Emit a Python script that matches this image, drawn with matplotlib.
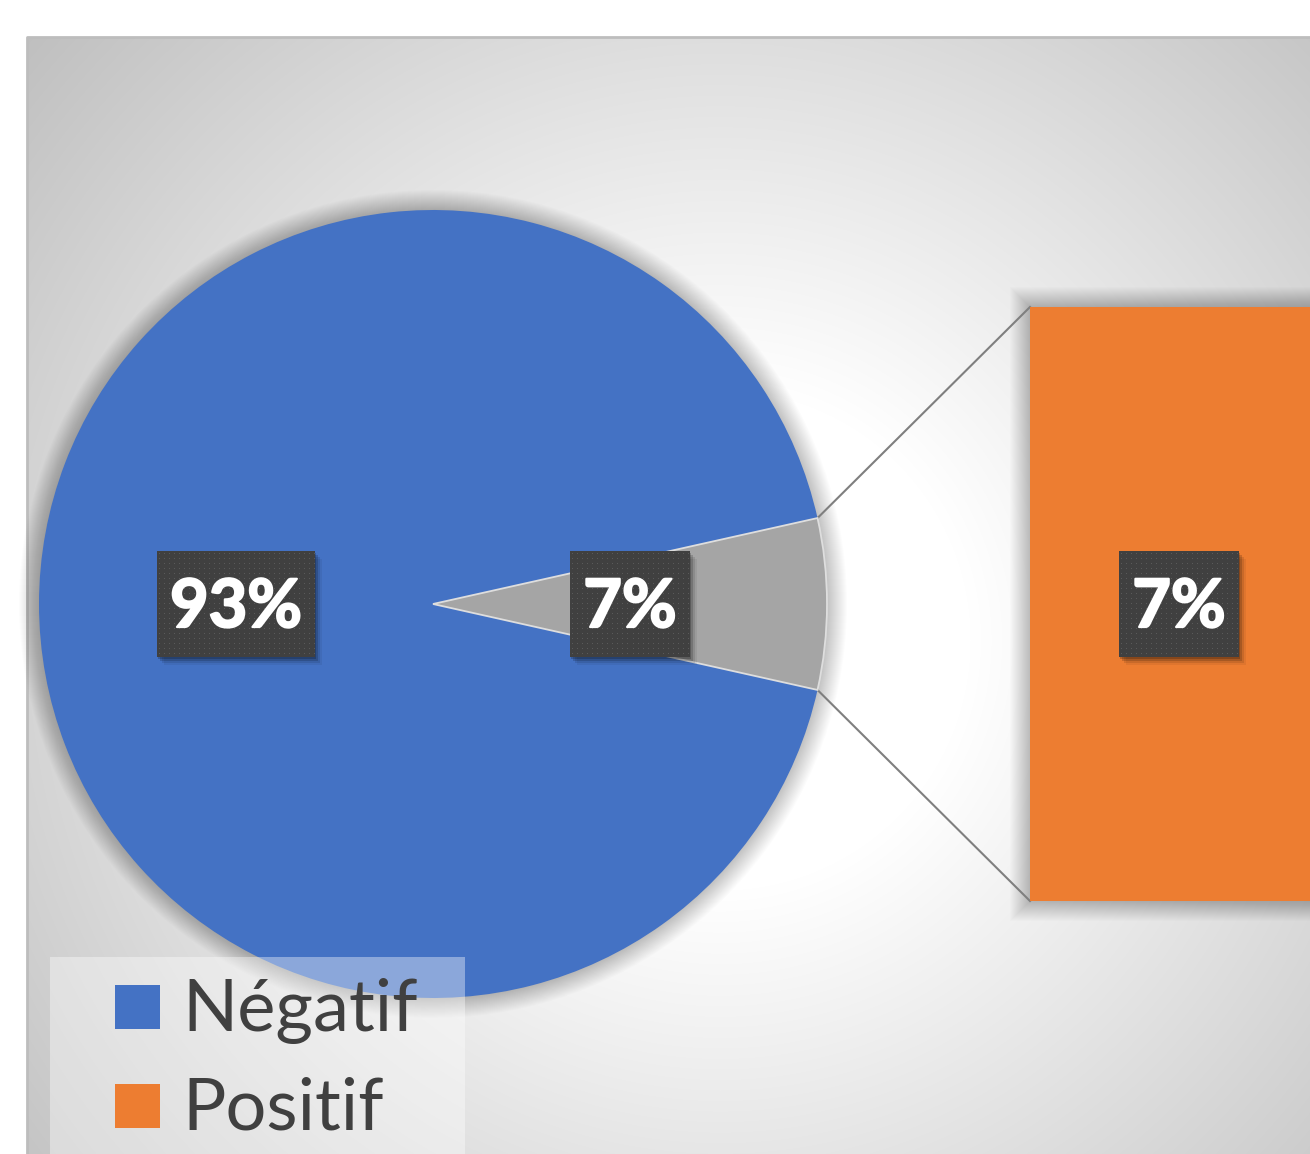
import numpy as np
import matplotlib.pyplot as plt
import matplotlib.patheffects as pe
from matplotlib.patches import Rectangle, Circle

plt.rcParams['font.family'] = ['Lato', 'DejaVu Sans']

# share of each result; the small slice is broken out into the bar on the right
categories = ['Négatif', 'Positif']
shares = [93, 7]
bar_values = [7]          # what the secondary bar is made of (Positif only)

blue = '#4472C4'
grey = '#A5A5A5'
orange = '#ED7D31'
text_dark = '#404040'

W, H = 1310, 1154
fig = plt.figure(figsize=(W / 100, H / 100), dpi=100)
ax = fig.add_axes([0, 0, 1, 1])

# chart area with a soft radial grey gradient
x0, y0 = 27, 37
yy, xx = np.mgrid[y0:H, x0:W]
dist = np.hypot(xx - 720, yy - 640)
g = np.clip(255 - 0.095 * np.clip(dist - 250, 0, None), 188, 255) / 255
ax.imshow(np.dstack([g, g, g]), extent=(x0, W, H, y0), zorder=0,
          interpolation='bilinear')
ax.plot([x0, x0, W], [H, y0, y0], color='#bdbdbd', lw=2, zorder=0.5)

# pie of the two shares
cx, cy, r = 433, 604, 394
for k in range(1, 21):
    ax.add_patch(Circle((cx, cy), r + k, color='k', alpha=0.012, lw=0, zorder=1))

half = shares[1] / 100 * 180
wedges, _ = ax.pie([shares[1], shares[0]], colors=[grey, blue], center=(cx, cy),
                   radius=r, startangle=-half, frame=True,
                   wedgeprops=dict(linewidth=0, zorder=2))
wedges[0].set_edgecolor('#dedede')
wedges[0].set_linewidth(1.3)
wedges[0].set_zorder(2.1)

# bar holding the broken-out slice
bar_left, bar_top, bar_w, bar_h = 1030, 307, 360, 594
for k in range(1, 21):
    ax.add_patch(Rectangle((bar_left - k, bar_top - k), bar_w + 2 * k, bar_h + 2 * k,
                           color='k', alpha=0.012, lw=0, zorder=1))
bottom = bar_top
for v in bar_values:
    hgt = bar_h * v / sum(bar_values)
    ax.bar(bar_left + bar_w / 2, hgt, width=bar_w, bottom=bottom, color=orange,
           zorder=2)
    bottom += hgt

# connector lines from the slice to the bar corners
t = np.deg2rad(half)
ax.plot([cx + r * np.cos(t), bar_left], [cy - r * np.sin(t), bar_top],
        color='#7f7f7f', lw=1.5, zorder=1.5)
ax.plot([cx + r * np.cos(t), bar_left], [cy + r * np.sin(t), bar_top + bar_h],
        color='#7f7f7f', lw=1.5, zorder=1.5)


def dotted_label(x, y, txt):
    t = ax.text(x, y + 4, txt, color='white', fontsize=48, fontweight='bold',
                ha='center', va='center', zorder=6,
                path_effects=[pe.withStroke(linewidth=1.6, foreground='white')])
    fig.canvas.draw()
    bb = t.get_window_extent(fig.canvas.get_renderer())
    w = bb.width + 26
    h = 106
    left, top = x - w / 2, y - h / 2
    # drop shadow
    for k, a in [(8, 0.06), (6, 0.1), (4, 0.16), (2, 0.2)]:
        ax.add_patch(Rectangle((left + k - 1, top + k), w, h, color='k', alpha=a,
                               lw=0, zorder=3))
    # dark box with a fine dot pattern
    iw, ih = int(round(w)), h
    tex = np.full((ih, iw), 64 / 255)
    jj, ii = np.mgrid[0:ih, 0:iw]
    tex[(jj % 5 == 2) & (ii % 5 == 2)] = 90 / 255
    ax.imshow(np.dstack([tex, tex, tex]), extent=(left, left + w, top + h, top),
              interpolation='nearest', zorder=4)


# pie labels at half radius along each slice's middle angle
for wdg, v in zip(wedges, [shares[1], shares[0]]):
    mid = np.deg2rad((wdg.theta1 + wdg.theta2) / 2)
    dotted_label(cx + 0.5 * r * np.cos(mid), cy + 0.5 * r * np.sin(mid), f'{v}%')
dotted_label(1179, bar_top + bar_h / 2, f'{bar_values[0]}%')

# legend
ax.add_patch(Rectangle((50, 957), 415, 220, facecolor='white', alpha=0.38, lw=0,
                       zorder=7))
for (lab, col, base) in [(categories[0], blue, 1031), (categories[1], orange, 1130)]:
    ax.add_patch(Rectangle((115, base - 46), 45, 44, color=col, lw=0, zorder=8))
    ax.text(182, base, lab, color=text_dark, fontsize=52, ha='left',
            va='baseline', zorder=8)

ax.set_xlim(0, W)
ax.set_ylim(H, 0)
ax.set_aspect('equal')
ax.axis('off')
fig.savefig('out.png', dpi=100, facecolor='white')
